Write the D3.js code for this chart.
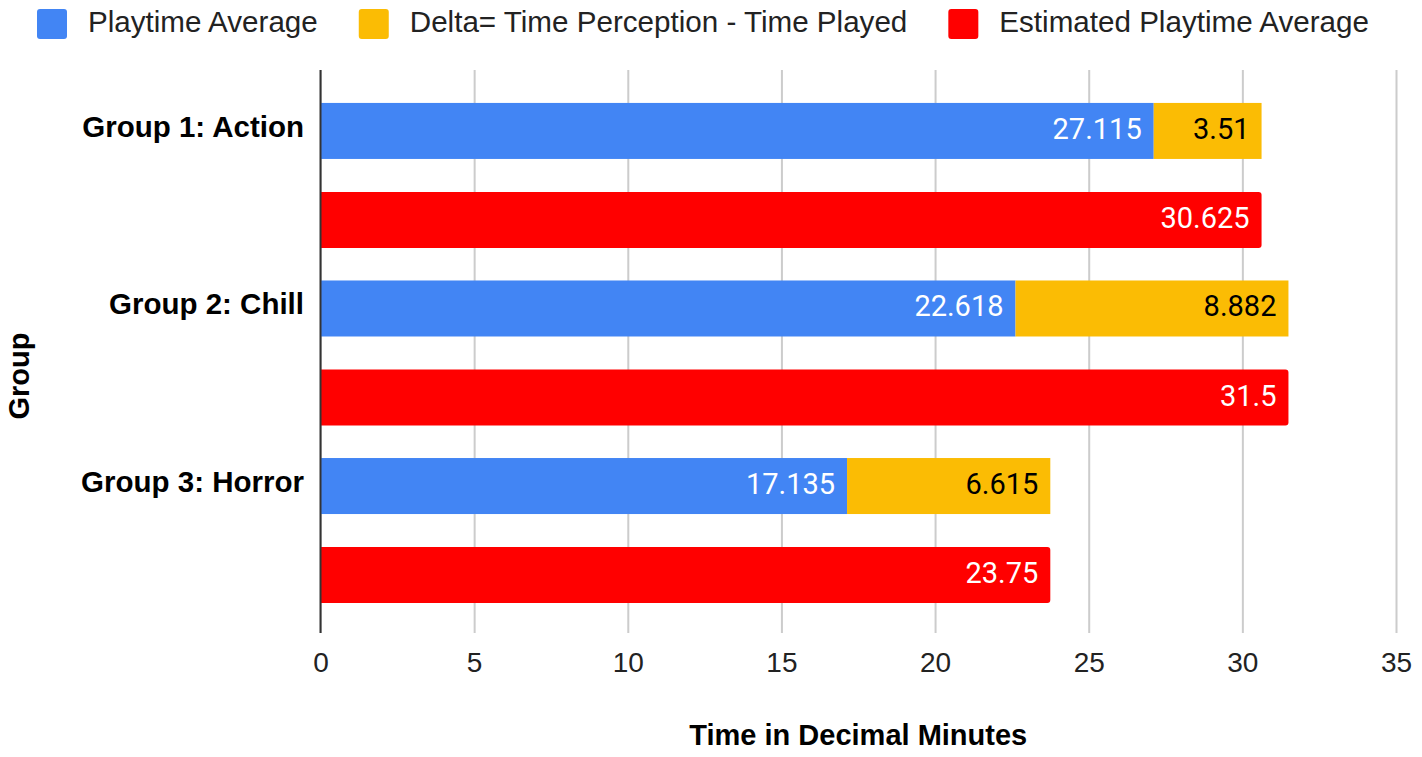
<!DOCTYPE html>
<html>
<head>
<meta charset="utf-8">
<script src="https://cdn.jsdelivr.net/npm/d3@7"></script>
<style>
  html, body { margin: 0; padding: 0; background: #fff; }
  svg { display: block; }
</style>
</head>
<body>
<svg id="chart" width="1422" height="757"></svg>
<script>
// Chart data
const categories = ["Group 1: Action", "Group 2: Chill", "Group 3: Horror"];
const playtimeAverage = [27.115, 22.618, 17.135];
const deltaPerception = [3.51, 8.882, 6.615];
const estimatedPlaytime = [30.625, 31.5, 23.75];
const xTicks = [0, 5, 10, 15, 20, 25, 30, 35];
const seriesNames = ["Playtime Average", "Delta= Time Perception - Time Played", "Estimated Playtime Average"];
const seriesColors = ["#4285F4", "#FBBC04", "#FF0000"];

const svg = d3.select("#chart");
const plot = { left: 320.5, right: 1396, top: 70, bottom: 633 };
const sansFont = "Arial, 'Liberation Sans', sans-serif";
const labelFont = "Roboto, Arial, sans-serif";

const x = d3.scaleLinear().domain([0, 35]).range([plot.left, plot.right]);
const y = d3.scaleBand().domain(categories).range([plot.top, plot.bottom])
  .paddingInner(0.183).paddingOuter(0.177).align(0.524);
const sub = d3.scaleBand().domain(["stack", "estimate"]).range([0, y.bandwidth()])
  .paddingInner(0.371).paddingOuter(0);

// Vertical gridlines and tick labels
const axis = svg.append("g")
  .attr("transform", `translate(0,${plot.bottom})`)
  .call(d3.axisBottom(x).tickValues(xTicks).tickSize(-(plot.bottom - plot.top)).tickFormat(d3.format("d")));
axis.select(".domain").remove();
axis.selectAll(".tick line").attr("stroke", "#cccccc").attr("stroke-width", 2);
axis.selectAll(".tick text")
  .attr("y", 39).attr("dy", null)
  .attr("fill", "#222").style("font-family", sansFont).style("font-size", "28px");

// Bars
const rows = categories.map((c, i) => ({
  cat: c, play: playtimeAverage[i], delta: deltaPerception[i], est: estimatedPlaytime[i]
}));

const g = svg.append("g");
const bh = sub.bandwidth();

rows.forEach(r => {
  const yS = y(r.cat) + sub("stack");
  const yE = y(r.cat) + sub("estimate");
  // Playtime average segment
  g.append("rect")
    .attr("x", x(0)).attr("y", yS)
    .attr("width", x(r.play) - x(0)).attr("height", bh)
    .attr("fill", seriesColors[0]);
  // Delta segment stacked after the playtime average
  g.append("rect")
    .attr("x", x(r.play)).attr("y", yS)
    .attr("width", x(r.play + r.delta) - x(r.play)).attr("height", bh)
    .attr("fill", seriesColors[1]);
  // Estimated playtime bar, rounded at its end
  const x0 = x(0), x1 = x(r.est), rr = 3;
  g.append("path")
    .attr("d", `M${x0},${yE}H${x1 - rr}Q${x1},${yE} ${x1},${yE + rr}V${yE + bh - rr}Q${x1},${yE + bh} ${x1 - rr},${yE + bh}H${x0}Z`)
    .attr("fill", seriesColors[2]);

  // Value labels inside the bar ends
  const lab = (val, xEnd, yTop, color) => g.append("text")
    .attr("x", x(xEnd) - 12).attr("y", yTop + bh / 2 + 8)
    .attr("text-anchor", "end").attr("fill", color)
    .style("font-family", labelFont).style("font-size", "29px")
    .text(val);
  lab(r.play, r.play, yS, "#ffffff");
  lab(r.delta, r.play + r.delta, yS, "#000000");
  lab(r.est, r.est, yE, "#ffffff");

  // Category label
  svg.append("text")
    .attr("x", 304).attr("y", yS + bh / 2 + 6)
    .attr("text-anchor", "end").attr("fill", "#000")
    .style("font-family", sansFont).style("font-size", "29.5px").style("font-weight", "bold")
    .text(r.cat);
});

// Zero baseline
svg.append("line")
  .attr("x1", x(0)).attr("x2", x(0)).attr("y1", plot.top).attr("y2", plot.bottom)
  .attr("stroke", "#333").attr("stroke-width", 2);

// Axis titles
svg.append("text")
  .attr("x", (plot.left + plot.right) / 2).attr("y", 745)
  .attr("text-anchor", "middle").attr("fill", "#000")
  .style("font-family", sansFont).style("font-size", "29px").style("font-weight", "bold")
  .text("Time in Decimal Minutes");

svg.append("text")
  .attr("transform", `translate(29,376) rotate(-90)`)
  .attr("text-anchor", "middle").attr("fill", "#000")
  .style("font-family", sansFont).style("font-size", "29px").style("font-weight", "bold")
  .text("Group");

// Legend
const legend = svg.append("g");
let lx = 37;
seriesNames.forEach((name, i) => {
  legend.append("rect")
    .attr("x", lx).attr("y", 9).attr("width", 30).attr("height", 30)
    .attr("rx", 3).attr("fill", seriesColors[i]);
  const t = legend.append("text")
    .attr("x", lx + 51).attr("y", 32)
    .attr("fill", "#222")
    .style("font-family", sansFont).style("font-size", "29.6px")
    .text(name);
  lx += 51 + t.node().getComputedTextLength() + 41;
});
</script>
</body>
</html>
